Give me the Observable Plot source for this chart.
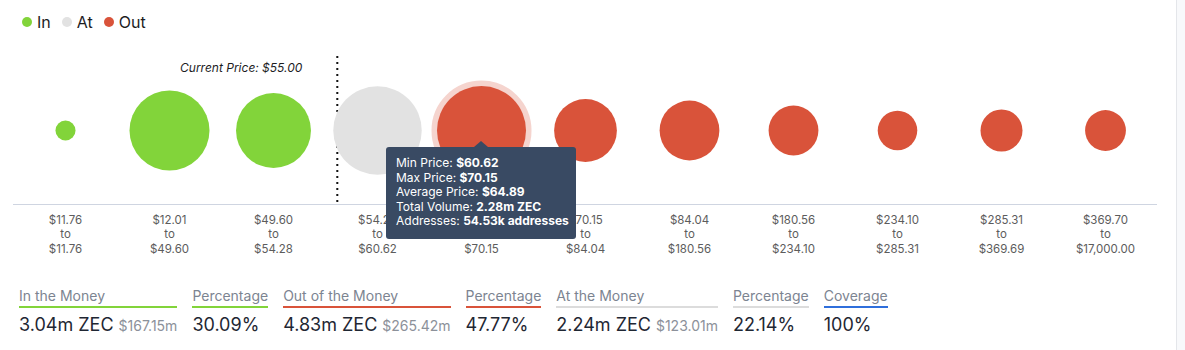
<!DOCTYPE html>
<html>
<head>
<meta charset="utf-8">
<script src="https://cdn.jsdelivr.net/npm/d3@7"></script>
<script src="https://cdn.jsdelivr.net/npm/@observablehq/plot@0.6"></script>
<style>
  html, body { margin: 0; padding: 0; background: #fff; }
  body { width: 1185px; height: 350px; overflow: hidden; position: relative; font-family: Inter, "Noto Sans", sans-serif; }
  #legend { position: absolute; left: 22px; top: 12px; display: flex; align-items: center; font-size: 16px; color: #1d1d1f; height: 20px; }
  .li { display: flex; align-items: center; margin-right: 11px; }
  .sw { width: 10px; height: 10px; border-radius: 50%; margin-right: 5px; }
  #chart { position: absolute; left: 0; top: 44px; }
  #tip { position: absolute; width: 190px; box-sizing: border-box; background: #394a63; color: #fff; border-radius: 3px;
         font-size: 12px; line-height: 14.5px; padding: 9px 10px 10px 10px; white-space: nowrap; }
  #tip b { font-weight: 700; }
  #tip:before { content: ""; position: absolute; left: 88px; top: -6px; border-left: 7px solid transparent; border-right: 7px solid transparent; border-bottom: 6px solid #394a63; }
  #summary { position: absolute; left: 19px; top: 287px; display: flex; }
  .item { margin-right: 15px; }
  .lab { font-size: 14px; line-height: 17px; color: #7c8491; padding-bottom: 2px; border-bottom: 2px solid #ccc; white-space: nowrap; }
  .val { font-size: 18px; line-height: 22px; color: #1f2733; margin-top: 6px; white-space: nowrap; }
  .sub { font-size: 14px; color: #8c919a; margin-left: 5px; }
  #side { position: absolute; left: 1176px; top: 0; width: 9px; height: 350px; background: #f8f9fb; border-left: 1px solid #e4e6ea; }
</style>
</head>
<body>
<div id="legend"></div>
<div id="chart"></div>
<div id="summary"></div>
<div id="side"></div>
<script>
// ---- data ----
const binLow  = [11.76, 12.01, 49.60, 54.28, 60.62, 70.15, 84.04, 180.56, 234.10, 285.31, 369.70];
const binHigh = [11.76, 49.60, 54.28, 60.62, 70.15, 84.04, 180.56, 234.10, 285.31, 369.69, 17000.00];
const volumes = [0.026, 1.655, 1.36, 2.24, 2.28, 0.80, 0.69, 0.40, 0.20, 0.24, 0.22]; // million ZEC (estimated)
const status  = ["In", "In", "In", "At", "Out", "Out", "Out", "Out", "Out", "Out", "Out"];
const statusNames  = ["In", "At", "Out"];
const statusColors = ["#82d43a", "#e2e2e2", "#d9533a"];
const currentPrice = 55.00;
const hovered = 4;
const hoverInfo = { min: "$60.62", max: "$70.15", avg: "$64.89", vol: "2.28m ZEC", addr: "54.53k addresses" };

const summaryLabels = ["In the Money", "Percentage", "Out of the Money", "Percentage", "At the Money", "Percentage", "Coverage"];
const summaryValues = ["3.04m ZEC", "30.09%", "4.83m ZEC", "47.77%", "2.24m ZEC", "22.14%", "100%"];
const summarySubs   = ["$167.15m", "", "$265.42m", "", "$123.01m", "", ""];
const summaryColors = ["#82d43a", "#82d43a", "#d9533a", "#d9533a", "#dcdcdc", "#dcdcdc", "#2f6fdc"];

// ---- derived ----
const idx = d3.range(binLow.length);
const fmt = v => "$" + d3.format(",.2f")(v);
const cpBin = idx.find(i => currentPrice >= binLow[i] && currentPrice < binHigh[i]);
const cpPos = cpBin + (currentPrice - binLow[cpBin]) / (binHigh[cpBin] - binLow[cpBin]);

// legend
const legend = document.getElementById("legend");
statusNames.forEach((n, k) => {
  const d = document.createElement("div");
  d.className = "li";
  d.innerHTML = `<span class="sw" style="background:${statusColors[k]}"></span><span>${n}</span>`;
  legend.appendChild(d);
});

const plot = Plot.plot({
  width: 1185,
  height: 220,
  marginLeft: 13,
  marginRight: 28,
  marginTop: 12,
  marginBottom: 60,
  style: { fontFamily: "Inter, 'Noto Sans', sans-serif", background: "transparent", overflow: "visible" },
  x: { domain: [0, binLow.length], axis: null },
  y: { domain: [0, 1], axis: null },
  r: { type: "pow", exponent: 1 / 3, domain: [0, d3.max(volumes)], range: [0, 44.5] },
  color: { domain: statusNames, range: statusColors },
  marks: [
    Plot.ruleY([0], { stroke: "#cfd5e1", strokeWidth: 1 }),
    Plot.ruleX([cpPos], { stroke: "#111", strokeWidth: 2, strokeDasharray: "2 4", insetBottom: 1 }),
    Plot.text([cpPos], { x: d => d, frameAnchor: "top", dy: 7, dx: -35, text: () => `Current Price: ${fmt(currentPrice)}`,
      textAnchor: "end", fontStyle: "italic", fontSize: 12, fill: "#1d1d1f" }),
    Plot.dot([hovered], { x: i => i + 0.5, y: () => 0.5, r: i => volumes[i], fill: "none",
      stroke: statusColors[2], strokeOpacity: 0.25, strokeWidth: 11 }),
    Plot.dot(idx, { x: i => i + 0.5, y: () => 0.5, r: i => volumes[i], fill: i => status[i] }),
    Plot.text(idx, { x: i => i + 0.5, frameAnchor: "bottom", lineAnchor: "top", dy: 10, lineHeight: 1.22,
      fontSize: 11.5, fill: "#5c5c5c", text: i => `${fmt(binLow[i])}\nto\n${fmt(binHigh[i])}` })
  ]
});
const chart = document.getElementById("chart");
chart.appendChild(plot);

// tooltip (hover state shown in the reference)
const xs = plot.scale("x"), ys = plot.scale("y");
const cx = xs.apply(hovered + 0.5), cy = ys.apply(0.5) + 44;
const tip = document.createElement("div");
tip.id = "tip";
tip.innerHTML = `Min Price: <b>${hoverInfo.min}</b><br>Max Price: <b>${hoverInfo.max}</b><br>Average Price: <b>${hoverInfo.avg}</b><br>Total Volume: <b>${hoverInfo.vol}</b><br>Addresses: <b>${hoverInfo.addr}</b>`;
tip.style.left = (cx - 95) + "px";
tip.style.top = (cy + 17) + "px";
document.body.appendChild(tip);

// summary
const summary = document.getElementById("summary");
summaryLabels.forEach((l, k) => {
  const d = document.createElement("div");
  d.className = "item";
  d.innerHTML = `<div class="lab" style="border-bottom-color:${summaryColors[k]}">${l}</div>` +
    `<div class="val">${summaryValues[k]}${summarySubs[k] ? `<span class="sub">${summarySubs[k]}</span>` : ""}</div>`;
  summary.appendChild(d);
});
</script>
</body>
</html>
